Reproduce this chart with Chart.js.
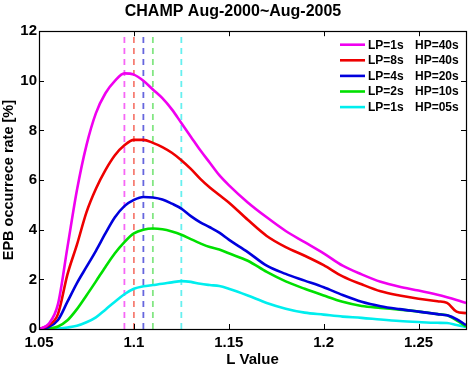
<!DOCTYPE html>
<html>
<head>
<meta charset="utf-8">
<script src="https://cdn.jsdelivr.net/npm/chart.js@4.4.1/dist/chart.umd.min.js"></script>
<style>
  html, body { margin: 0; padding: 0; background: #ffffff; }
  #c { display: block; }
</style>
</head>
<body>
<canvas id="c" width="471" height="366"></canvas>
<script>
// ---------------- DATA ----------------
const chartTitle = 'CHAMP Aug-2000~Aug-2005';
const xTitle = 'L Value';
const yTitle = 'EPB occurrece rate [%]';

const lValues = [1.05, 1.055, 1.06, 1.065, 1.07, 1.075, 1.08, 1.085, 1.09, 1.095,
                 1.10, 1.105, 1.11, 1.115, 1.12, 1.125, 1.13, 1.135, 1.14, 1.145,
                 1.15, 1.16, 1.17, 1.18, 1.19, 1.20, 1.21, 1.22, 1.23, 1.24,
                 1.25, 1.26, 1.265, 1.27, 1.275];

const lp1hp40 = [0, 0.2, 1.0, 3.3, 5.6, 7.4, 8.7, 9.5, 10.0, 10.3,
                 10.25, 10.0, 9.65, 9.3, 8.85, 8.3, 7.75, 7.2, 6.7, 6.2,
                 5.8, 5.1, 4.5, 3.95, 3.5, 3.05, 2.55, 2.2, 1.9, 1.7,
                 1.55, 1.38, 1.28, 1.17, 1.05];

const lp8hp40 = [0, 0.15, 0.6, 2.2, 3.4, 4.7, 5.65, 6.4, 7.0, 7.4,
                 7.62, 7.62, 7.5, 7.33, 7.1, 6.8, 6.45, 6.05, 5.7, 5.4,
                 5.1, 4.4, 3.75, 3.3, 2.95, 2.57, 2.12, 1.8, 1.52, 1.35,
                 1.22, 1.12, 1.05, 0.7, 0.64];

const lp4hp20 = [0, 0.08, 0.36, 1.1, 1.85, 2.5, 3.15, 3.85, 4.5, 4.95,
                 5.2, 5.32, 5.3, 5.22, 5.05, 4.85, 4.55, 4.3, 4.1, 3.88,
                 3.6, 3.1, 2.55, 2.22, 1.95, 1.68, 1.37, 1.1, 0.92, 0.8,
                 0.7, 0.6, 0.55, 0.4, 0.16];

const lp2hp10 = [0, 0.02, 0.1, 0.35, 0.8, 1.35, 1.92, 2.5, 3.05, 3.5,
                 3.85, 4.0, 4.05, 4.02, 3.93, 3.8, 3.62, 3.45, 3.3, 3.2,
                 3.05, 2.75, 2.3, 1.92, 1.62, 1.35, 1.1, 0.93, 0.85, 0.78,
                 0.7, 0.6, 0.55, 0.35, 0.1];

const lp1hp05 = [0, 0, 0.02, 0.06, 0.13, 0.27, 0.47, 0.78, 1.1, 1.4,
                 1.62, 1.72, 1.77, 1.82, 1.88, 1.93, 1.9, 1.82, 1.77, 1.73,
                 1.62, 1.35, 1.05, 0.82, 0.66, 0.58, 0.5, 0.45, 0.38, 0.32,
                 0.28, 0.25, 0.24, 0.16, 0.08];

const seriesValues = [lp1hp40, lp8hp40, lp4hp20, lp2hp10, lp1hp05];
const lpLabels = ['LP=1s', 'LP=8s', 'LP=4s', 'LP=2s', 'LP=1s'];
const hpLabels = ['HP=40s', 'HP=40s', 'HP=20s', 'HP=10s', 'HP=05s'];
const peakL = [1.095, 1.10, 1.105, 1.11, 1.125];

const xTickValues = [1.05, 1.10, 1.15, 1.20, 1.25];
const xTickLabels = ['1.05', '1.1', '1.15', '1.2', '1.25'];
const yTickValues = [0, 2, 4, 6, 8, 10, 12];
const yTickLabels = ['0', '2', '4', '6', '8', '10', '12'];
const xMin = 1.05, xMax = 1.275, yMin = 0, yMax = 12;

// ---------------- STYLE ----------------
const lineColors = ['#f000f0', '#ee0000', '#0000dd', '#00e000', '#00eeee'];
const dashColors = ['rgba(240,0,240,0.6)', 'rgba(238,20,0,0.55)', 'rgba(0,0,200,0.6)',
                    'rgba(30,210,30,0.55)', 'rgba(0,230,230,0.6)'];
const FONT = 'Liberation Sans, Arial, Helvetica, sans-serif';

Chart.defaults.font.family = FONT;
Chart.defaults.color = '#000000';

const mainSets = seriesValues.map((vals, i) => ({
  label: lpLabels[i] + '  ' + hpLabels[i],
  data: lValues.map((l, j) => ({ x: l, y: vals[j] })),
  borderColor: lineColors[i],
  backgroundColor: lineColors[i],
  borderWidth: 2.6,
  pointRadius: 0,
  tension: 0.4,
  cubicInterpolationMode: 'monotone',
  fill: false,
  order: 1
}));

const dashSets = peakL.map((p, i) => ({
  label: 'peak ' + i,
  data: [{ x: p, y: yMin }, { x: p, y: yMax }],
  borderColor: dashColors[i],
  borderWidth: 1.8,
  borderDash: [6, 5],
  pointRadius: 0,
  fill: false,
  order: 2,
  isPeak: true
}));

function findLabel(v, vals, labels) {
  for (let i = 0; i < vals.length; i++) {
    if (Math.abs(v - vals[i]) < 1e-6) return labels[i];
  }
  return '';
}

// Box + inward ticks (MATLAB style)
const boxPlugin = {
  id: 'boxTicks',
  afterDatasetsDraw(chart) {
    const { ctx, chartArea: a, scales } = chart;
    ctx.save();
    ctx.strokeStyle = '#000';
    ctx.lineWidth = 1.2;
    ctx.strokeRect(Math.round(a.left) + 0.5, Math.round(a.top) + 0.5,
                   Math.round(a.right - a.left), Math.round(a.bottom - a.top));
    const tl = 5;
    ctx.lineWidth = 1;
    ctx.beginPath();
    xTickValues.forEach(v => {
      const px = Math.round(scales.x.getPixelForValue(v)) + 0.5;
      ctx.moveTo(px, a.bottom); ctx.lineTo(px, a.bottom - tl);
      ctx.moveTo(px, a.top); ctx.lineTo(px, a.top + tl);
    });
    yTickValues.forEach(v => {
      const py = Math.round(scales.y.getPixelForValue(v)) + 0.5;
      ctx.moveTo(a.left, py); ctx.lineTo(a.left + tl, py);
      ctx.moveTo(a.right, py); ctx.lineTo(a.right - tl, py);
    });
    ctx.stroke();
    ctx.restore();
  }
};

// Legend drawn inside the plot (top-right)
const innerLegend = {
  id: 'innerLegend',
  afterDraw(chart) {
    const { ctx, chartArea: a } = chart;
    ctx.save();
    ctx.font = 'bold 12px ' + FONT;
    ctx.textBaseline = 'middle';
    ctx.textAlign = 'left';
    ctx.fillStyle = '#000';
    for (let i = 0; i < lpLabels.length; i++) {
      const y = a.top + 13.5 + i * 15.6;
      ctx.strokeStyle = lineColors[i];
      ctx.lineWidth = 2.6;
      ctx.beginPath();
      ctx.moveTo(a.right - 126, y);
      ctx.lineTo(a.right - 101, y);
      ctx.stroke();
      ctx.fillText(lpLabels[i], a.right - 98, y + 0.5);
      ctx.fillText(hpLabels[i], a.right - 51, y + 0.5);
    }
    ctx.restore();
  }
};

new Chart(document.getElementById('c'), {
  type: 'line',
  data: { datasets: [...mainSets, ...dashSets] },
  options: {
    responsive: false,
    animation: false,
    devicePixelRatio: 1,
    layout: { padding: { left: 0, right: 5, top: 0, bottom: 0 } },
    plugins: {
      legend: { display: false },
      tooltip: { enabled: false },
      title: {
        display: true,
        text: chartTitle,
        color: '#000',
        font: { family: FONT, size: 16, weight: 'bold' },
        padding: { top: 2, bottom: 10 }
      }
    },
    scales: {
      x: {
        type: 'linear',
        min: xMin,
        max: xMax,
        afterFit(s) { s.height = 37; },
        grid: { display: false, drawTicks: false },
        border: { display: false },
        ticks: {
          stepSize: 0.05,
          includeBounds: false,
          autoSkip: false,
          maxRotation: 0,
          padding: 5,
          color: '#000',
          font: { family: FONT, size: 15, weight: 'bold' },
          callback: (v) => findLabel(v, xTickValues, xTickLabels)
        },
        title: {
          display: true,
          text: xTitle,
          color: '#000',
          font: { family: FONT, size: 15, weight: 'bold' },
          padding: { top: 0, bottom: -3 }
        }
      },
      y: {
        type: 'linear',
        min: yMin,
        max: yMax,
        afterFit(s) { s.width = 39; },
        grid: { display: false, drawTicks: false },
        border: { display: false },
        ticks: {
          stepSize: 2,
          padding: 2,
          color: '#000',
          font: { family: FONT, size: 15, weight: 'bold' },
          callback: (v) => findLabel(v, yTickValues, yTickLabels)
        },
        title: {
          display: true,
          text: yTitle,
          color: '#000',
          font: { family: FONT, size: 14.5, weight: 'bold' },
          padding: { top: 0, bottom: 0 }
        }
      }
    }
  },
  plugins: [boxPlugin, innerLegend]
});
</script>
</body>
</html>
